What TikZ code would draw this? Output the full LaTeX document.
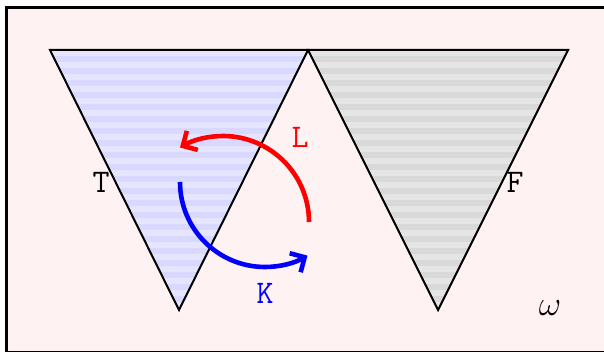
\documentclass[tikz,border=0pt]{standalone}
\usepackage{tikz}
\usepackage{amsmath}
\usetikzlibrary{arrows.meta}
\begin{document}
\begin{tikzpicture}[x=0.5pt,y=-0.5pt,
		lbl/.style={font=\ttfamily\fontsize{16.5}{18}\selectfont},
		turn/.style={line width=2.3pt,-{Straight Barb[length=5.5pt,width=11pt,line width=2.3pt]}}]
		\useasboundingbox (0,0) rectangle (604,352);
		\def\lefttri{ (50,50) -- (308,50) -- (179,310) -- cycle};
		\def\righttri{ (308,50) -- (568,50) -- (438,310) -- cycle};
		
		% frame
		\fill[red!5] (6.5,7.5) rectangle (620,353);
		\draw[line width=1.6pt] (6.5,7.5) rectangle (620,353);
		
		% striped triangles
		\fill[blue!10] \lefttri;
		\fill[gray!20] \righttri;
		\begin{scope}
			\clip \lefttri;
			\foreach \y in {56,68,...,310}
				\fill[blue!15] (40,\y) rectangle (320,\y+6);
		\end{scope}
		\begin{scope}
			\clip \righttri;
			\foreach \y in {56,68,...,310}
				\fill[gray!30] (300,\y) rectangle (580,\y+6);
		\end{scope}
		\draw[line width=1pt] \lefttri;
		\draw[line width=1pt] \righttri;
		
		% turning arcs
		\draw[red,turn] (309,222) arc[start angle=0, end angle=-120, radius=86];
		\draw[blue,turn] (180,182) arc[start angle=180, end angle=60, radius=85];
		
		\node[lbl] (T) at (101,182) {T};
		\node[lbl] (F) at (515,182) {F};
		\node[lbl,red] (L) at (300,137) {L};
		\node[lbl,blue] (K) at (265,293) {K};
		\node[font=\fontsize{16.5}{18}\selectfont] (w) at (550,308) {$\omega$};
	\end{tikzpicture}
\end{document}
